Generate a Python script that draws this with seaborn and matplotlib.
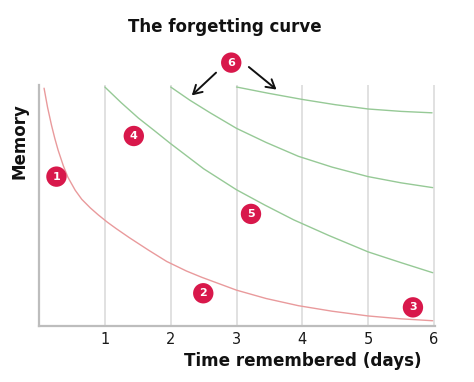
import matplotlib
matplotlib.use("Agg")
import matplotlib.pyplot as plt
import seaborn as sns
import pandas as pd

# ---- data ----
forget_t = [0.077, 0.13, 0.19, 0.24, 0.29, 0.37, 0.44, 0.55, 0.65, 0.78, 0.90, 1.04, 1.17,
            1.37, 1.66, 1.94, 2.24, 2.47, 3.0, 3.45, 3.94, 4.45, 5.0, 5.5, 5.98]
forget_m = [99.5, 91.5, 84.0, 78.5, 73.6, 67.0, 62.2, 56.8, 53.0, 49.4, 46.5, 43.4, 40.8,
            37.0, 31.8, 27.0, 23.0, 20.4, 15.0, 11.5, 8.5, 6.2, 4.2, 3.0, 2.2]

review1_t = [1.0, 1.25, 1.51, 1.75, 1.99, 2.5, 3.0, 3.43, 3.87, 4.4, 5.0, 5.5, 5.98]
review1_m = [100, 93.4, 87, 81.8, 76.5, 65.8, 57, 50.6, 44.4, 37.9, 31, 26.5, 22.3]

review2_t = [2.0, 2.29, 2.6, 3.0, 3.45, 3.94, 4.45, 5.0, 5.5, 5.98]
review2_m = [100, 94.5, 89.2, 82.7, 76.8, 71, 66.5, 62.5, 59.9, 57.9]

review3_t = [3.0, 3.48, 4.0, 4.5, 5.0, 5.5, 5.97]
review3_m = [100, 97.4, 94.8, 92.6, 90.8, 89.8, 89.2]

x_ticks = [1, 2, 3, 4, 5, 6]
x_tick_labels = ["1", "2", "3", "4", "5", "6"]

badge_labels = ["1", "2", "3", "4", "5", "6"]
badge_t = [0.265, 2.495, 5.68, 1.44, 3.22, 2.92]
badge_m = [62.5, 13.7, 7.8, 79.5, 46.9, 110.2]

# arrows from badge 6: (start_t, start_m, end_t, end_m)
arrow_start_t = [2.72, 3.155]
arrow_start_m = [106.8, 109.1]
arrow_end_t = [2.29, 3.64]
arrow_end_m = [95.7, 98.2]

title = "The forgetting curve"
x_label = "Time remembered (days)"
y_label = "Memory"

# ---- build table ----
frames = []
for name, tt, mm in [("forget", forget_t, forget_m),
                     ("review1", review1_t, review1_m),
                     ("review2", review2_t, review2_m),
                     ("review3", review3_t, review3_m)]:
    frames.append(pd.DataFrame({"t": tt, "m": mm, "curve": name}))
df = pd.concat(frames, ignore_index=True)

sns.set_style("white")
plt.rcParams["font.family"] = ["DejaVu Sans"]

RED_LINE = "#e99a9c"
GREEN_LINE = "#96c996"
BADGE = "#d8184b"
GRID = "#dcdcdc"
SPINE = "#bdbdbd"

fig = plt.figure(figsize=(4.74, 3.82), dpi=100)
ax = fig.add_axes([39 / 474, 1 - 326 / 382, 396 / 474, 241 / 382])

sns.lineplot(data=df, x="t", y="m", hue="curve",
             palette={"forget": RED_LINE, "review1": GREEN_LINE,
                      "review2": GREEN_LINE, "review3": GREEN_LINE},
             legend=False, ax=ax, linewidth=1.0, sort=False, estimator=None)

ax.set_xlim(0, 6.015)
ax.set_ylim(0, 100.84)
ax.set_xticks(x_ticks)
ax.set_xticklabels(x_tick_labels)
ax.set_yticks([])
ax.tick_params(axis="x", length=0, pad=4.5, labelsize=10.5, labelcolor="#1a1a1a")

for xv in x_ticks:
    ax.axvline(xv, color=GRID, lw=1.2, zorder=0)

for side in ["top", "right"]:
    ax.spines[side].set_visible(False)
for side in ["left", "bottom"]:
    ax.spines[side].set_color(SPINE)
    ax.spines[side].set_linewidth(1.6)

ax.set_xlabel(x_label, fontsize=12.1, fontweight="bold", color="#111111")
ax.xaxis.set_label_coords((302.5 - 39) / 396, (326 - 352) / 241)
ax.xaxis.label.set_verticalalignment("top")

ax.set_ylabel(y_label, fontsize=12, fontweight="bold", color="#111111")
ax.yaxis.set_label_coords((20 - 39) / 396, (326 - 141.5) / 241)
ax.yaxis.label.set_verticalalignment("center")

fig.text(224.5 / 474, 1 - 27 / 382, title, ha="center", va="center",
         fontsize=12, fontweight="bold", color="#111111")

# badges
ax.scatter(badge_t, badge_m, s=215, color=BADGE, edgecolor="none",
           zorder=5, clip_on=False)
for lab, bt, bm in zip(badge_labels, badge_t, badge_m):
    ax.text(bt, bm, lab, ha="center", va="center", color="white",
            fontsize=8, fontweight="bold", zorder=6, clip_on=False)

for st, sm, et, em in zip(arrow_start_t, arrow_start_m, arrow_end_t, arrow_end_m):
    ax.annotate("", xy=(et, em), xytext=(st, sm),
                arrowprops=dict(arrowstyle="->,head_length=0.6,head_width=0.35",
                                color="#111111", lw=1.4),
                annotation_clip=False)

fig.savefig("out.png", dpi=100)
